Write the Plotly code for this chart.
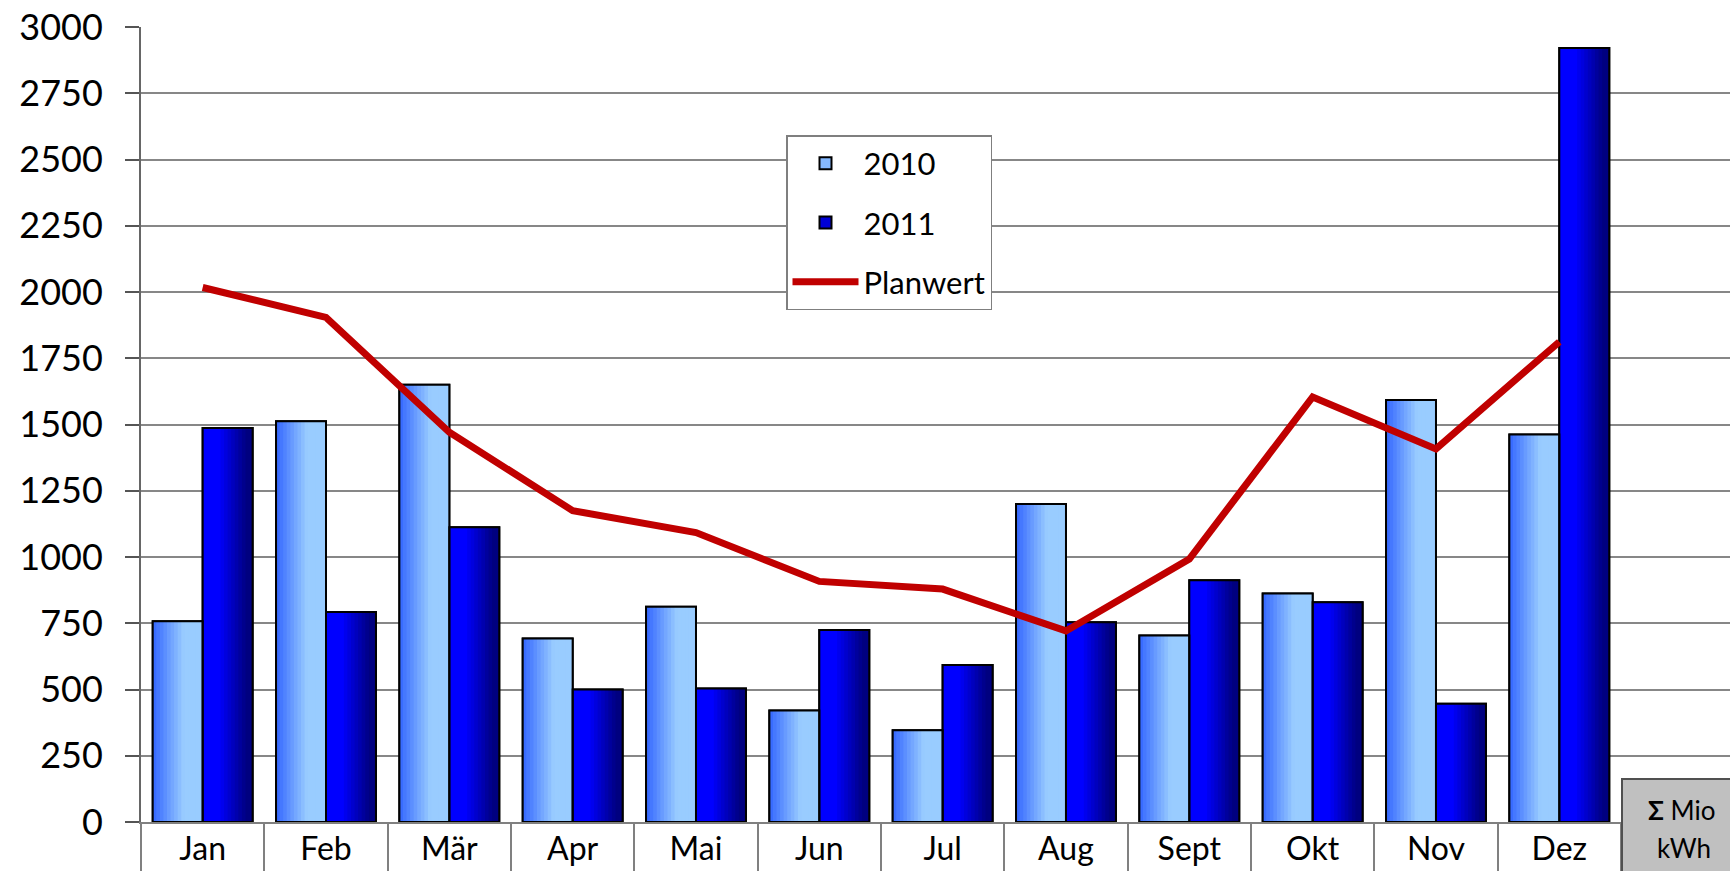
import plotly.graph_objects as go

months = ["Jan", "Feb", "Mär", "Apr", "Mai", "Jun", "Jul", "Aug", "Sept", "Okt", "Nov", "Dez"]
v2010 = [758, 1512, 1650, 692, 812, 421, 346, 1200, 704, 862, 1592, 1462]
v2011 = [1487, 792, 1112, 500, 504, 725, 592, 754, 912, 829, 446, 2921]
planwert = [2017, 1904, 1471, 1175, 1092, 908, 879, 721, 992, 1604, 1408, 1812]
y_ticks = list(range(0, 3001, 250))

FONT = "Lato"
BAR_W = 0.405
N_STRIPS = 14

GRAD_2010 = [(0.0, (51, 102, 255)), (0.62, (153, 204, 255)), (1.0, (153, 204, 255))]
GRAD_2011 = [(0.0, (0, 0, 255)), (0.32, (0, 0, 255)), (0.88, (0, 0, 128)), (1.0, (0, 0, 128))]


def grad_color(stops, t):
    for (t0, c0), (t1, c1) in zip(stops[:-1], stops[1:]):
        if t0 <= t <= t1:
            f = 0 if t1 == t0 else (t - t0) / (t1 - t0)
            c = [round(a + (b - a) * f) for a, b in zip(c0, c1)]
            return "rgb(%d,%d,%d)" % tuple(c)
    return "rgb(%d,%d,%d)" % stops[-1][1]


fig = go.Figure()

series = [("2010", v2010, -BAR_W, GRAD_2010), ("2011", v2011, 0.0, GRAD_2011)]

# legend-carrying bars (covered by the gradient strips)
for name, vals, off, grad in series:
    fig.add_trace(go.Bar(
        x=months, y=vals, name=name, legendgroup=name,
        offset=off, width=BAR_W,
        marker=dict(color=grad_color(grad, 0.5), line=dict(color="black", width=2)),
        hoverinfo="skip",
    ))

# gradient strips
for name, vals, off, grad in series:
    step = BAR_W / N_STRIPS
    for k in range(N_STRIPS):
        start = off + k * step
        w = min(step * 1.6, off + BAR_W - start)
        fig.add_trace(go.Bar(
            x=months, y=vals, name=name, legendgroup=name, showlegend=False,
            offset=start, width=w,
            marker=dict(color=grad_color(grad, (k + 0.5) / N_STRIPS), line=dict(width=0)),
            hoverinfo="skip",
        ))

# outlines on top
for name, vals, off, grad in series:
    fig.add_trace(go.Bar(
        x=months, y=vals, name=name, legendgroup=name, showlegend=False,
        offset=off, width=BAR_W,
        marker=dict(color="rgba(0,0,0,0)", line=dict(color="black", width=2)),
    ))

fig.add_trace(go.Scatter(
    x=months, y=planwert, name="Planwert", legendgroup="Planwert",
    mode="lines", line=dict(color="#C00000", width=7),
))

L, T, B = 141, 27, 49
W, H = 1730, 871
pw = W - L
ph = H - T - B


def px_x(x):
    return (x - L) / pw


def px_y(y):
    return (H - B - y) / ph


fig.update_layout(
    width=W, height=H,
    margin=dict(l=L, r=0, t=T, b=B, pad=0, autoexpand=False),
    paper_bgcolor="white", plot_bgcolor="white",
    barmode="overlay",
    font=dict(family=FONT, color="black"),
    showlegend=True,
    legend=dict(
        x=px_x(786), y=px_y(135), xanchor="left", yanchor="top",
        bgcolor="white", bordercolor="#7f7f7f", borderwidth=1.5,
        font=dict(size=31, family=FONT, color="black"),
        itemwidth=66, tracegroupgap=16, traceorder="grouped",
        entrywidth=200, entrywidthmode="pixels",
    ),
    xaxis=dict(
        type="category", categoryorder="array", categoryarray=months,
        range=[-0.5, 11.5 + (W - 1621) / 123.3],
        tickson="boundaries", ticks="outside", ticklen=49, tickwidth=1.5,
        tickcolor="#808080",
        showgrid=False, showline=True, linecolor="#808080", linewidth=2,
        tickfont=dict(size=32, family=FONT, color="black"),
        ticklabelstandoff=-2,
        zeroline=False, automargin=False,
    ),
    yaxis=dict(
        range=[0, 3000], tickvals=y_ticks,
        ticks="outside", ticklen=14, tickwidth=1.5, tickcolor="#555555",
        showgrid=True, gridcolor="#878787", gridwidth=1.5,
        showline=True, linecolor="#666666", linewidth=2,
        zeroline=False, automargin=False,
        tickfont=dict(size=36, family=FONT, color="black"),
        ticklabelstandoff=15,
    ),
)

fig.add_shape(
    type="rect", xref="paper", yref="paper",
    x0=px_x(1622), x1=1.05, y0=-0.2, y1=px_y(779),
    fillcolor="#C0C0C0", line=dict(color="#505050", width=2), layer="above",
)
fig.add_annotation(
    xref="paper", yref="paper", x=px_x(1682), y=px_y(810),
    text="<b>Σ</b> Mio", showarrow=False, font=dict(size=26, family=FONT, color="black"),
    xanchor="center", yanchor="middle",
)
fig.add_annotation(
    xref="paper", yref="paper", x=px_x(1684), y=px_y(848),
    text="kWh", showarrow=False, font=dict(size=26, family=FONT, color="black"),
    xanchor="center", yanchor="middle",
)

fig.write_html(
    "out.html",
    config={"displayModeBar": False},
    post_script="document.body.style.margin='0';document.body.style.overflow='hidden';",
)
